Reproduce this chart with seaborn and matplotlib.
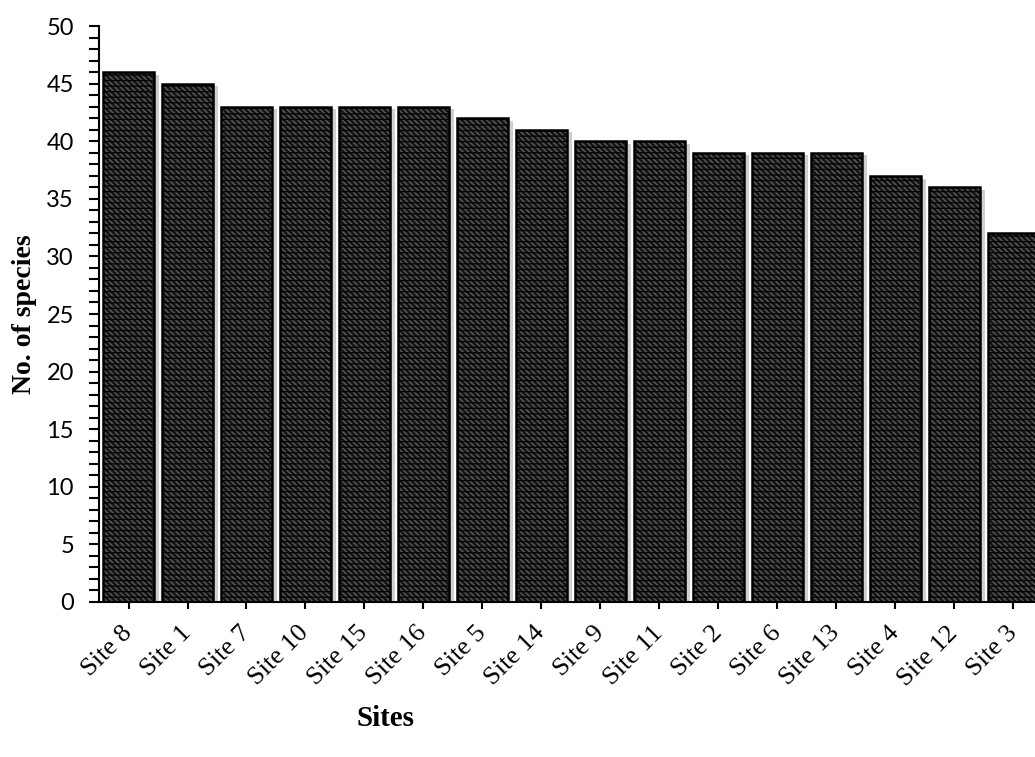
import matplotlib
matplotlib.use("Agg")
import matplotlib.pyplot as plt
import matplotlib.patheffects as pe
import seaborn as sns
from matplotlib.ticker import MultipleLocator

sites = ["Site 8", "Site 1", "Site 7", "Site 10", "Site 15", "Site 16", "Site 5", "Site 14",
         "Site 9", "Site 11", "Site 2", "Site 6", "Site 13", "Site 4", "Site 12", "Site 3"]
species = [46, 45, 43, 43, 43, 43, 42, 41, 40, 40, 39, 39, 39, 37, 36, 32]

sns.set_style("ticks")
plt.rcParams["hatch.linewidth"] = 1.0
plt.rcParams["text.color"] = "black"
plt.rcParams["axes.labelcolor"] = "black"
plt.rcParams["xtick.color"] = "black"
plt.rcParams["ytick.color"] = "black"

fig = plt.figure(figsize=(10.35, 7.57), dpi=100)
# axes run past the right edge, like the original crop
ax = fig.add_axes([99 / 1035, 155 / 757, 944 / 1035, 576 / 757])

# 4 layers: shadow, textured fill, horizontal bands, outline
for i in range(4):
    sns.barplot(x=sites, y=species, ax=ax, width=0.86, saturation=1, color="#1c1c1c")

n = len(sites)
layers = [ax.patches[k * n:(k + 1) * n] for k in range(4)]
for p in layers[0]:
    p.set_facecolor("none")
    p.set_linewidth(0)
    p.set_path_effects([pe.SimplePatchShadow(offset=(4, -2), shadow_rgbFace="#c4c4c4", alpha=0.8)])
for p in layers[1]:
    p.set_facecolor("#141414")
    p.set_edgecolor("#5e5e5e")
    p.set_hatch("\\\\\\\\\\\\")
    p.set_linewidth(0)
for p in layers[2]:
    p.set_facecolor("none")
    p.set_edgecolor("#050505")
    p.set_hatch("---")
    p.set_linewidth(0)
for p in layers[3]:
    p.set_facecolor("none")
    p.set_edgecolor("black")
    p.set_hatch(None)
    p.set_linewidth(1.8)

ax.set_xlim(-0.5, n - 0.5)
ax.set_ylim(0, 50)
ax.yaxis.set_major_locator(MultipleLocator(5))
ax.yaxis.set_minor_locator(MultipleLocator(1))

for s in ["top", "right"]:
    ax.spines[s].set_visible(False)
for s in ["left", "bottom"]:
    ax.spines[s].set_linewidth(1.5)
    ax.spines[s].set_color("black")

ax.tick_params(axis="y", which="both", direction="out", length=7, width=1.5, color="black")
ax.tick_params(axis="y", which="major", pad=11, labelsize=17, labelcolor="black")
ax.tick_params(axis="x", direction="out", length=5, width=1.5, color="black", pad=15,
               labelcolor="black")

for lab in ax.get_yticklabels():
    lab.set_fontfamily("Lato")
ax.set_xticks(range(n))
ax.set_xticklabels(sites, rotation=45, ha="right", va="center", rotation_mode="anchor",
                   fontsize=19, fontfamily="Liberation Serif")

ax.set_xlabel("")
ax.set_ylabel("No. of species", fontsize=20, fontweight="bold", fontfamily="Liberation Serif",
              labelpad=7, color="black")
fig.text(385 / 1035, 1 - 718 / 757, "Sites", fontsize=21, fontweight="bold",
         fontfamily="Liberation Serif", ha="center", va="center", color="black")

fig.savefig("out.png", dpi=100)
